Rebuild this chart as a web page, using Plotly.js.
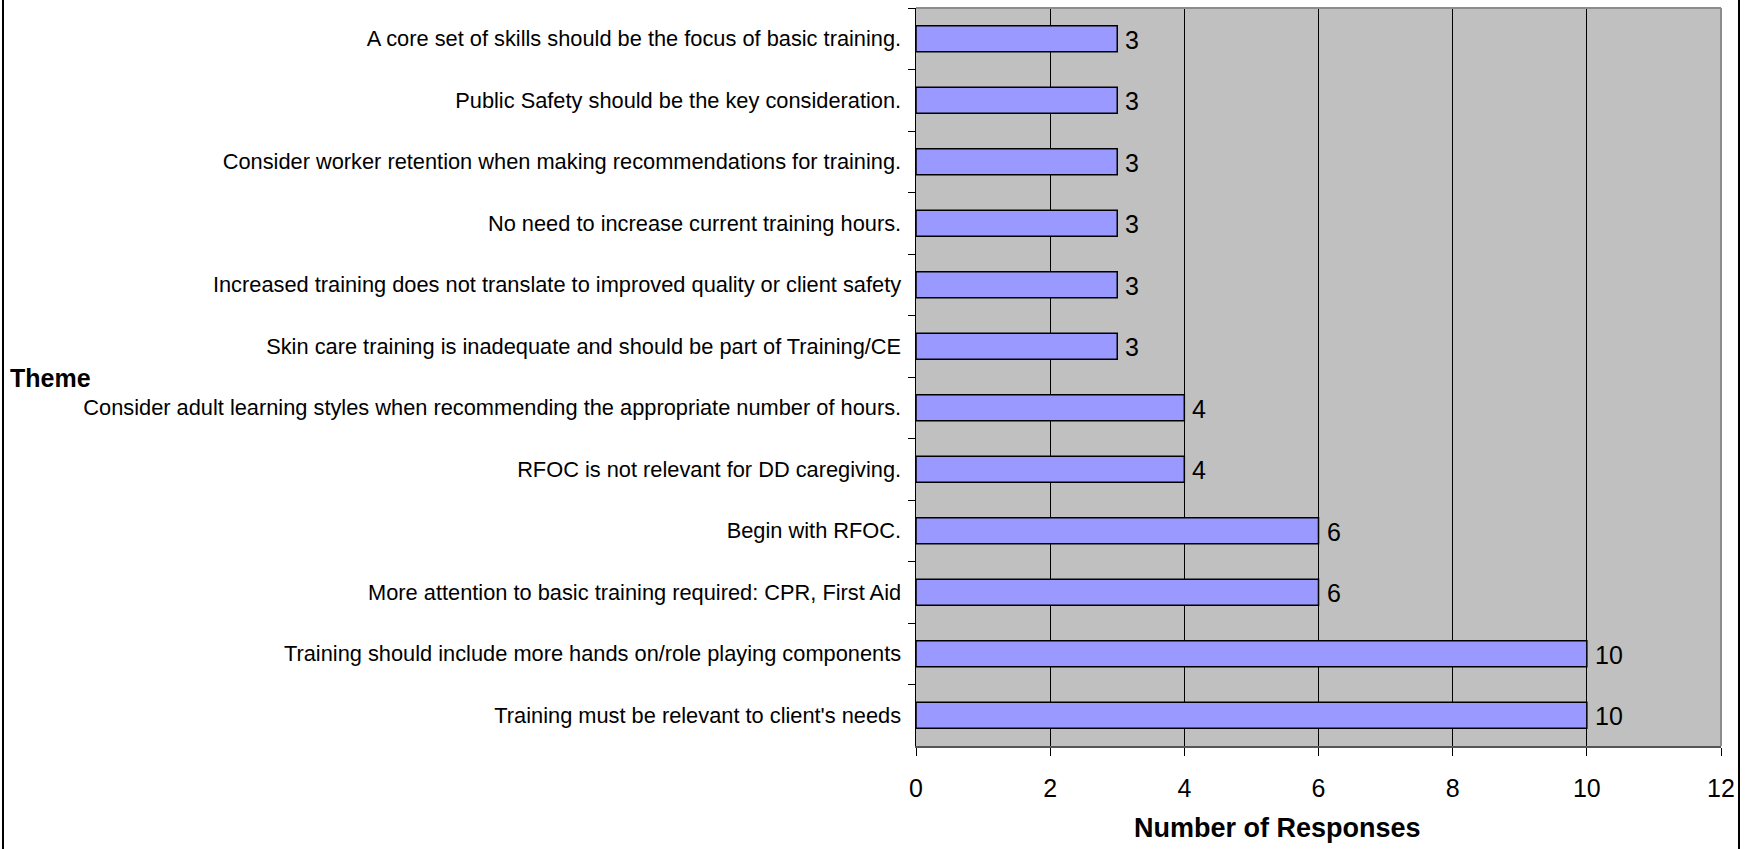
<!DOCTYPE html>
<html>
<head>
<meta charset="utf-8">
<script src="https://cdn.plot.ly/plotly-3.0.1.min.js"></script>
<style>
  html, body { margin: 0; padding: 0; background: #fff; }
  #chart { width: 1752px; height: 849px; }
</style>
</head>
<body>
<div id="chart"></div>
<script>
// Data (top-to-bottom order as shown in the chart)
const themes = [
  "A core set of skills should be the focus of basic training.",
  "Public Safety should be the key consideration.",
  "Consider worker retention when making recommendations for training.",
  "No need to increase current training hours.",
  "Increased training does not translate to improved quality or client safety",
  "Skin care training is inadequate and should be part of Training/CE",
  "Consider adult learning styles when recommending the appropriate number of hours.",
  "RFOC is not relevant for DD caregiving.",
  "Begin with RFOC.",
  "More attention to basic training required: CPR, First Aid",
  "Training should include more hands on/role playing components",
  "Training must be relevant to client's needs"
];
const responses = [3, 3, 3, 3, 3, 3, 4, 4, 6, 6, 10, 10];
const xTickVals = [0, 2, 4, 6, 8, 10, 12];
const xTitle = "Number of Responses";
const yTitle = "Theme";

const FONT = "Liberation Sans, Arial, sans-serif";
const W = 1752, H = 849;
const m = {l: 916, r: 31, t: 8, b: 103};
const pw = W - m.l - m.r, ph = H - m.t - m.b;
const px = x => (x - m.l) / pw;
const py = y => (H - m.b - y) / ph;

const trace = {
  type: 'bar',
  orientation: 'h',
  y: themes,
  x: responses,
  width: 0.42,
  marker: {color: '#9999FF', line: {color: '#000', width: 1.5}},
  hoverinfo: 'none'
};

const valueLabels = themes.map((t, i) => ({
  x: responses[i], y: t, xref: 'x', yref: 'y',
  text: String(responses[i]),
  xanchor: 'left', yanchor: 'middle', xshift: 6, yshift: -1,
  showarrow: false,
  font: {family: FONT, size: 25, color: '#000'}
}));

const layout = {
  width: W, height: H,
  margin: m,
  paper_bgcolor: '#fff',
  plot_bgcolor: '#C0C0C0',
  showlegend: false,
  font: {family: FONT, color: '#000'},
  xaxis: {
    range: [0, 12],
    tickvals: xTickVals,
    ticktext: xTickVals.map(String),
    showgrid: true, gridcolor: '#000', gridwidth: 1,
    zeroline: false,
    showline: true, linecolor: '#555', linewidth: 1.5,
    ticks: 'outside', ticklen: 8, tickcolor: '#000', tickwidth: 1,
    tickfont: {family: FONT, size: 25, color: '#000'},
    ticklabelstandoff: 11,
    fixedrange: true
  },
  yaxis: {
    type: 'category',
    autorange: 'reversed',
    showgrid: false, zeroline: false,
    showline: true, linecolor: '#000', linewidth: 1.5,
    ticks: 'outside', tickson: 'boundaries', ticklen: 7, tickcolor: '#000', tickwidth: 1,
    tickfont: {family: FONT, size: 21.8, color: '#000'},
    ticklabelstandoff: 9,
    fixedrange: true
  },
  shapes: [
    {type: 'line', xref: 'paper', yref: 'paper', x0: 0, x1: 1, y0: 1, y1: 1, line: {color: '#8c8c8c', width: 2}},
    {type: 'line', xref: 'paper', yref: 'paper', x0: 1, x1: 1, y0: 0, y1: 1, line: {color: '#8c8c8c', width: 2}},
    {type: 'rect', xref: 'paper', yref: 'paper', x0: px(3), x1: px(1739), y0: py(-5), y1: py(H + 5), line: {color: '#000', width: 2}, layer: 'below'}
  ],
  annotations: valueLabels.concat([
    {text: '<b>' + yTitle + '</b>', xref: 'paper', yref: 'paper', x: px(8), y: py(378),
     xanchor: 'left', yanchor: 'middle', showarrow: false,
     font: {family: FONT, size: 25, color: '#000'}},
    {text: '<b>' + xTitle + '</b>', xref: 'paper', yref: 'paper', x: px(1277), y: py(828),
     xanchor: 'center', yanchor: 'middle', showarrow: false,
     font: {family: FONT, size: 27, color: '#000'}}
  ])
};

Plotly.newPlot('chart', [trace], layout, {displayModeBar: false, staticPlot: true});
</script>
</body>
</html>
